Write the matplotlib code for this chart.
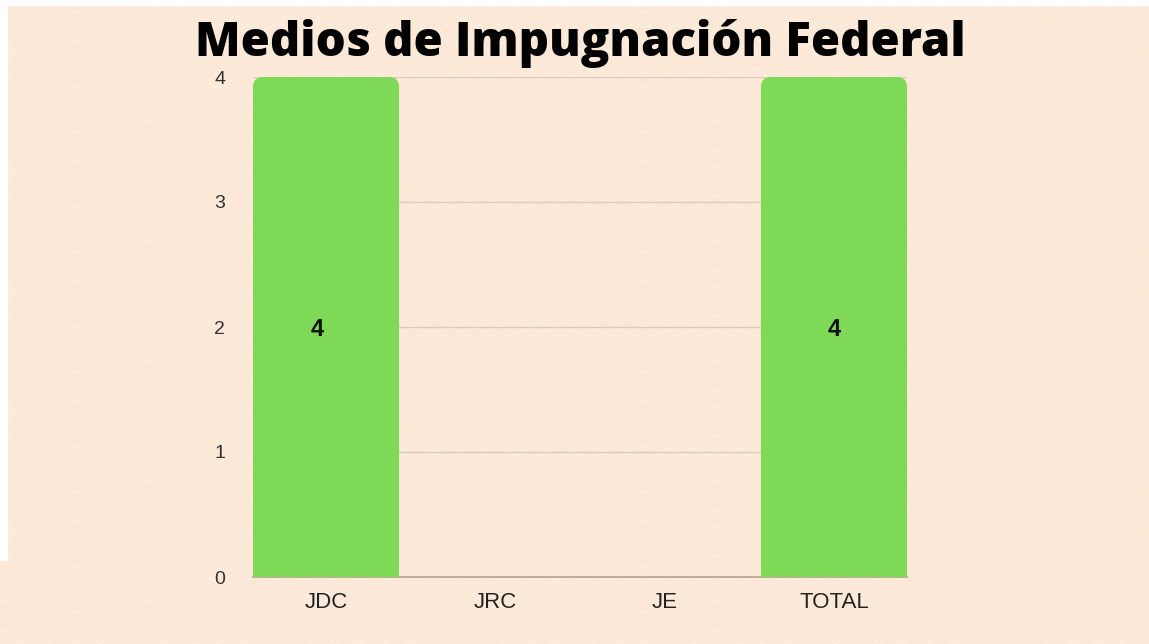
import matplotlib
matplotlib.use("Agg")
import matplotlib.pyplot as plt
from matplotlib.patches import FancyBboxPatch, Rectangle
import numpy as np

categories = ["JDC", "JRC", "JE", "TOTAL"]
values = [4, 0, 0, 4]
yticks = [0, 1, 2, 3, 4]
title = "Medios de Impugnación Federal"

BG = "#FBE8D6"
GREEN = "#7ED957"

fig = plt.figure(figsize=(11.49, 6.44), dpi=100)
fig.patch.set_facecolor(BG)

# subtle chevron background pattern (decorative)
bgax = fig.add_axes([0, 0, 1, 1], zorder=-10)
bgax.set_xlim(0, 1149)
bgax.set_ylim(644, 0)
bgax.axis("off")
bgax.add_patch(Rectangle((0, 0), 1149, 644, color=BG, zorder=0))
half = 71.1
amp = 43.0
peak0 = 147.0
xs = np.arange(peak0 - 3 * 2 * half, 1149 + 2 * half, half)
for off in np.arange(-60, 720, 15):
    ys = [off + (0 if round((xv - peak0) / half) % 2 == 0 else amp) for xv in xs]
    bgax.plot(xs, ys, color="#FDF0E3", lw=1.8, alpha=0.6)
bgax.add_patch(Rectangle((0, 0), 1149, 5, color="white", zorder=5))
bgax.add_patch(Rectangle((0, 0), 7, 560, color="white", zorder=5))

ax = fig.add_axes([253 / 1149, 1 - 577 / 644, 654 / 1149, 500 / 644])
ax.set_facecolor("none")

w = 0.863
x = np.arange(len(categories))
px_per_x = 654 / (len(categories) - 1 + w)
px_per_y = 500 / 4
r_x = 10 / px_per_x
aspect = (10 / px_per_y) / r_x
for xi, v in zip(x, values):
    if v > 0:
        ax.bar(xi, v * 0.9, width=w, color=GREEN, zorder=3, linewidth=0)
        p = FancyBboxPatch((xi - w / 2, 0), w, v,
                           boxstyle=f"round,pad=0,rounding_size={r_x}",
                           mutation_aspect=aspect,
                           facecolor=GREEN, edgecolor="none", zorder=3)
        ax.add_patch(p)
        ax.text(xi - (0.05 if xi == 0 else 0), v / 2 - 0.02, str(v), ha="center", va="center",
                fontsize=17, fontweight="bold", family="Liberation Sans",
                color="#111111", zorder=4)

ax.set_xlim(-w / 2, len(categories) - 1 + w / 2)
ax.set_ylim(0, 4)
ax.set_yticks(yticks)
ax.set_yticklabels([str(t) for t in yticks], family="Liberation Sans", fontsize=14, color="#333333")
ax.set_xticks(x)
ax.set_xticklabels(categories, family="Liberation Sans", fontsize=16, color="#222222")
ax.tick_params(axis="both", length=0)
ax.tick_params(axis="y", pad=20)
ax.tick_params(axis="x", pad=11)
ax.grid(axis="y", color="#D9CCBF", lw=1.0, zorder=1)
for s in ["top", "right", "left"]:
    ax.spines[s].set_visible(False)
ax.spines["bottom"].set_color("#B5A293")
ax.spines["bottom"].set_linewidth(1.2)
ax.spines["bottom"].set_zorder(2)

fig.text(580 / 1149, 1 - 44 / 644, title, ha="center", va="center", fontsize=34,
         fontweight="heavy", family="Open Sans", color="black")

fig.savefig("out.png", dpi=100, facecolor=BG)
